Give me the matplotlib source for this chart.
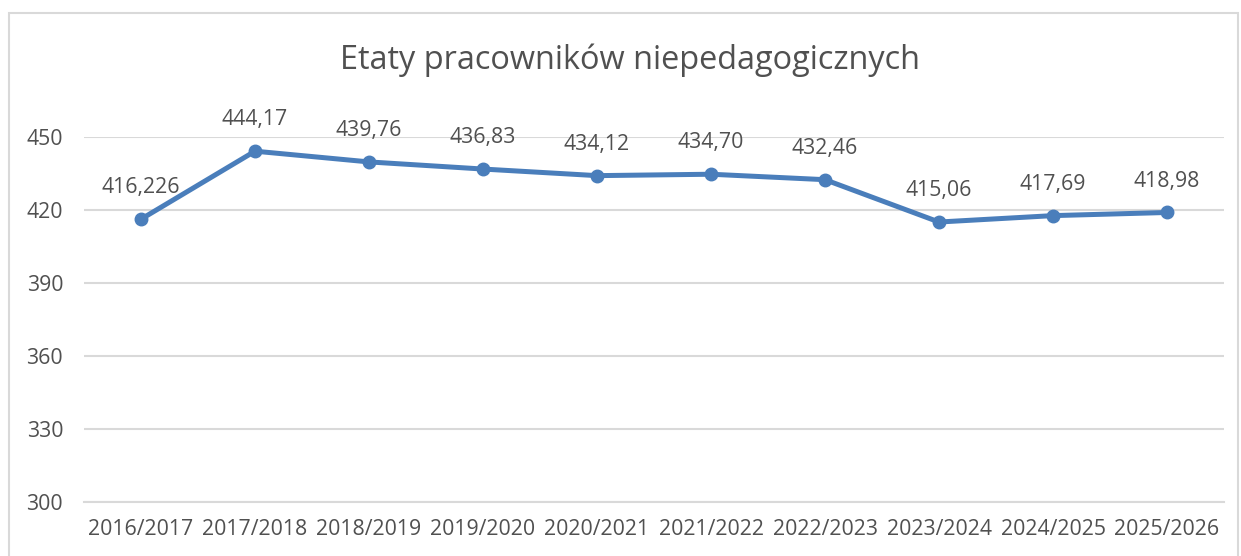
import matplotlib.pyplot as plt
from matplotlib.patches import Rectangle

# dane
lata = ['2016/2017', '2017/2018', '2018/2019', '2019/2020', '2020/2021',
        '2021/2022', '2022/2023', '2023/2024', '2024/2025', '2025/2026']
etaty = [416.226, 444.17, 439.76, 436.83, 434.12, 434.70, 432.46, 415.06, 417.69, 418.98]
etykiety = ['416,226', '444,17', '439,76', '436,83', '434,12',
            '434,70', '432,46', '415,06', '417,69', '418,98']
y_ticks = [300, 330, 360, 390, 420, 450]

plt.rcParams['font.family'] = ['Open Sans', 'DejaVu Sans']
szary = '#505050'

fig = plt.figure(figsize=(12.41, 5.56), dpi=100)
ax = fig.add_axes([84 / 1241, 1 - 502 / 556, (1224 - 84) / 1241, (502 - 137) / 556])

# ramka wykresu
fig.patches.append(Rectangle((9 / 1241, -0.05), (1238 - 9) / 1241, 1.05 - 13 / 556,
                             transform=fig.transFigure, fill=False,
                             edgecolor='#D9D9D9', linewidth=1.5))

x = range(len(lata))
ax.plot(x, etaty, color='#4A7EBB', linewidth=3.6, marker='o', markersize=9,
        solid_capstyle='round', zorder=3)
for i, (v, t) in enumerate(zip(etaty, etykiety)):
    ax.annotate(t, (i, v), xytext=(0, 15), textcoords='offset points',
                ha='center', va='bottom', fontsize=15.3, color=szary)

ax.set_xlim(-0.5, len(lata) - 0.5)
ax.set_ylim(300, 450)
ax.set_yticks(y_ticks)
ax.set_xticks(list(x))
ax.set_xticklabels(lata)
ax.grid(axis='y', color='#D9D9D9', linewidth=1.5)
ax.set_axisbelow(True)
for s in ['top', 'right', 'left']:
    ax.spines[s].set_visible(False)
ax.spines['bottom'].set_color('#D9D9D9')
ax.spines['bottom'].set_linewidth(1.5)
ax.tick_params(length=0, labelsize=15.3, labelcolor=szary)
ax.tick_params(axis='y', pad=15)
ax.tick_params(axis='x', pad=12)

fig.text(630 / 1241, 1 - 60 / 556, 'Etaty pracowników niepedagogicznych',
         ha='center', va='center', fontsize=23.4, color=szary)

fig.savefig('out.png', dpi=100)
